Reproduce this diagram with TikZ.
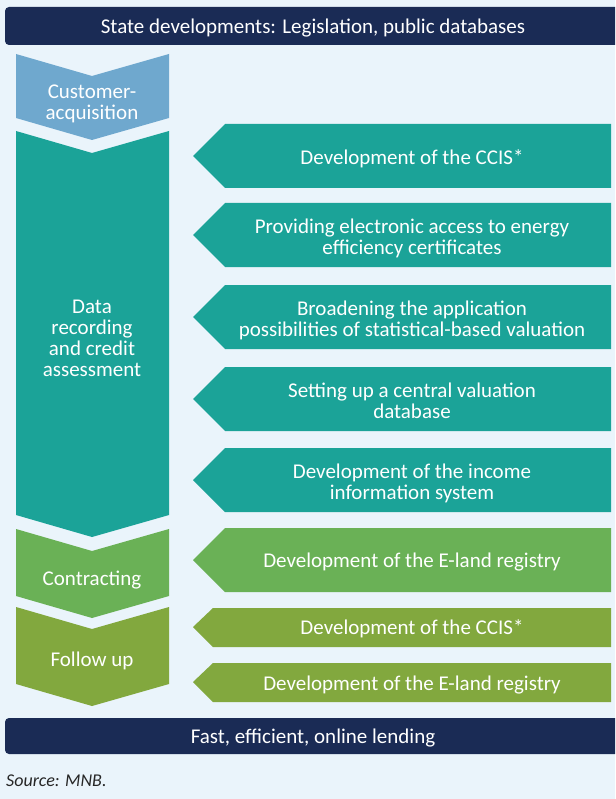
\documentclass[tikz,border=0pt]{standalone}
\usepackage{fontspec}
\setmainfont{Carlito}
\definecolor{pagebg}{HTML}{EAF4FB}
\definecolor{navy}{HTML}{1A2B55}
\definecolor{skyblue}{HTML}{6FA8CE}
\definecolor{teal}{HTML}{1BA398}
\definecolor{leaf}{HTML}{6AB156}
\definecolor{olive}{HTML}{82A83E}
\tikzset{
  txt/.style={text=white,align=center,inner sep=0pt,
    font=\fontsize{21}{21}\selectfont},
  bar/.style={txt,fill=navy,rounded corners=4pt,minimum width=620pt,
    minimum height=38pt}
}
\begin{document}
\begin{tikzpicture}[x=1pt,y=-1pt]
  \useasboundingbox (0,0) rectangle (615,799);
  \clip (0,0) rectangle (615,799);
  \fill[pagebg] (0,0) rectangle (615,799);
  % Bars on top and bottom
  \fill[navy,rounded corners=4pt] (5,7) rectangle (625,45);
  \fill[navy,rounded corners=4pt] (5,718) rectangle (625,754);
  \node[txt] (state) at (313,28) {State developments: Legislation, public databases};
  \node[txt] (lending) at (313,738) {Fast, efficient, online lending};
  % Stages (left column)
  \fill[skyblue] (16,54)--(92,76)--(169,54)--(169,118)--(92,140)--(16,118)--cycle;
  \fill[teal] (16,131)--(92,153)--(169,131)--(169,515)--(92,537)--(16,515)--cycle;
  \fill[leaf] (16,529)--(92,551)--(169,529)--(169,596)--(92,618)--(16,596)--cycle;
  \fill[olive] (16,607)--(92,629)--(169,607)--(169,684)--(92,706)--(16,684)--cycle;
  \node[txt] (acq) at (92,104) {Customer-\\acquisition};
  \node[txt] (data) at (92,338) {Data\\recording\\and credit\\assessment};
  \node[txt] (contr) at (92,580) {Contracting};
  \node[txt] (follow) at (92,661) {Follow up};
  % Developments (right column)
  \fill[teal] (193,156)--(225,124)--(611,124)--(611,188)--(225,188)--cycle;
  \fill[teal] (193,235)--(225,203)--(611,203)--(611,267)--(225,267)--cycle;
  \fill[teal] (193,317)--(225,285)--(611,285)--(611,349)--(225,349)--cycle;
  \fill[teal] (193,399)--(225,367)--(611,367)--(611,431)--(225,431)--cycle;
  \fill[teal] (193,480)--(225,448)--(611,448)--(611,512)--(225,512)--cycle;
  \fill[leaf] (193,560)--(225,528)--(611,528)--(611,592)--(225,592)--cycle;
  \fill[olive] (193,627)--(213,608)--(611,608)--(611,647)--(213,647)--cycle;
  \fill[olive] (193,682)--(213,663)--(611,663)--(611,702)--(213,702)--cycle;
  \node[txt] (ccis) at (412,159) {Development of the CCIS*};
  \node[txt] (energy) at (412,238) {Providing electronic access to energy\\efficiency certificates};
  \node[txt] (stat) at (412,320) {Broadening the application\\possibilities of statistical-based valuation};
  \node[txt] (valdb) at (412,401) {Setting up a central valuation\\database};
  \node[txt] (income) at (412,483) {Development of the income\\information system};
  \node[txt] (eland) at (412,562) {Development of the E-land registry};
  \node[txt] (ccisb) at (412,629) {Development of the CCIS*};
  \node[txt] (elandb) at (412,685) {Development of the E-land registry};
  % Source
  \node[anchor=west,inner sep=0pt,font=\fontsize{18}{18}\selectfont\itshape,text=black!85]
    (src) at (6,781) {Source: MNB.};
\end{tikzpicture}
\end{document}
